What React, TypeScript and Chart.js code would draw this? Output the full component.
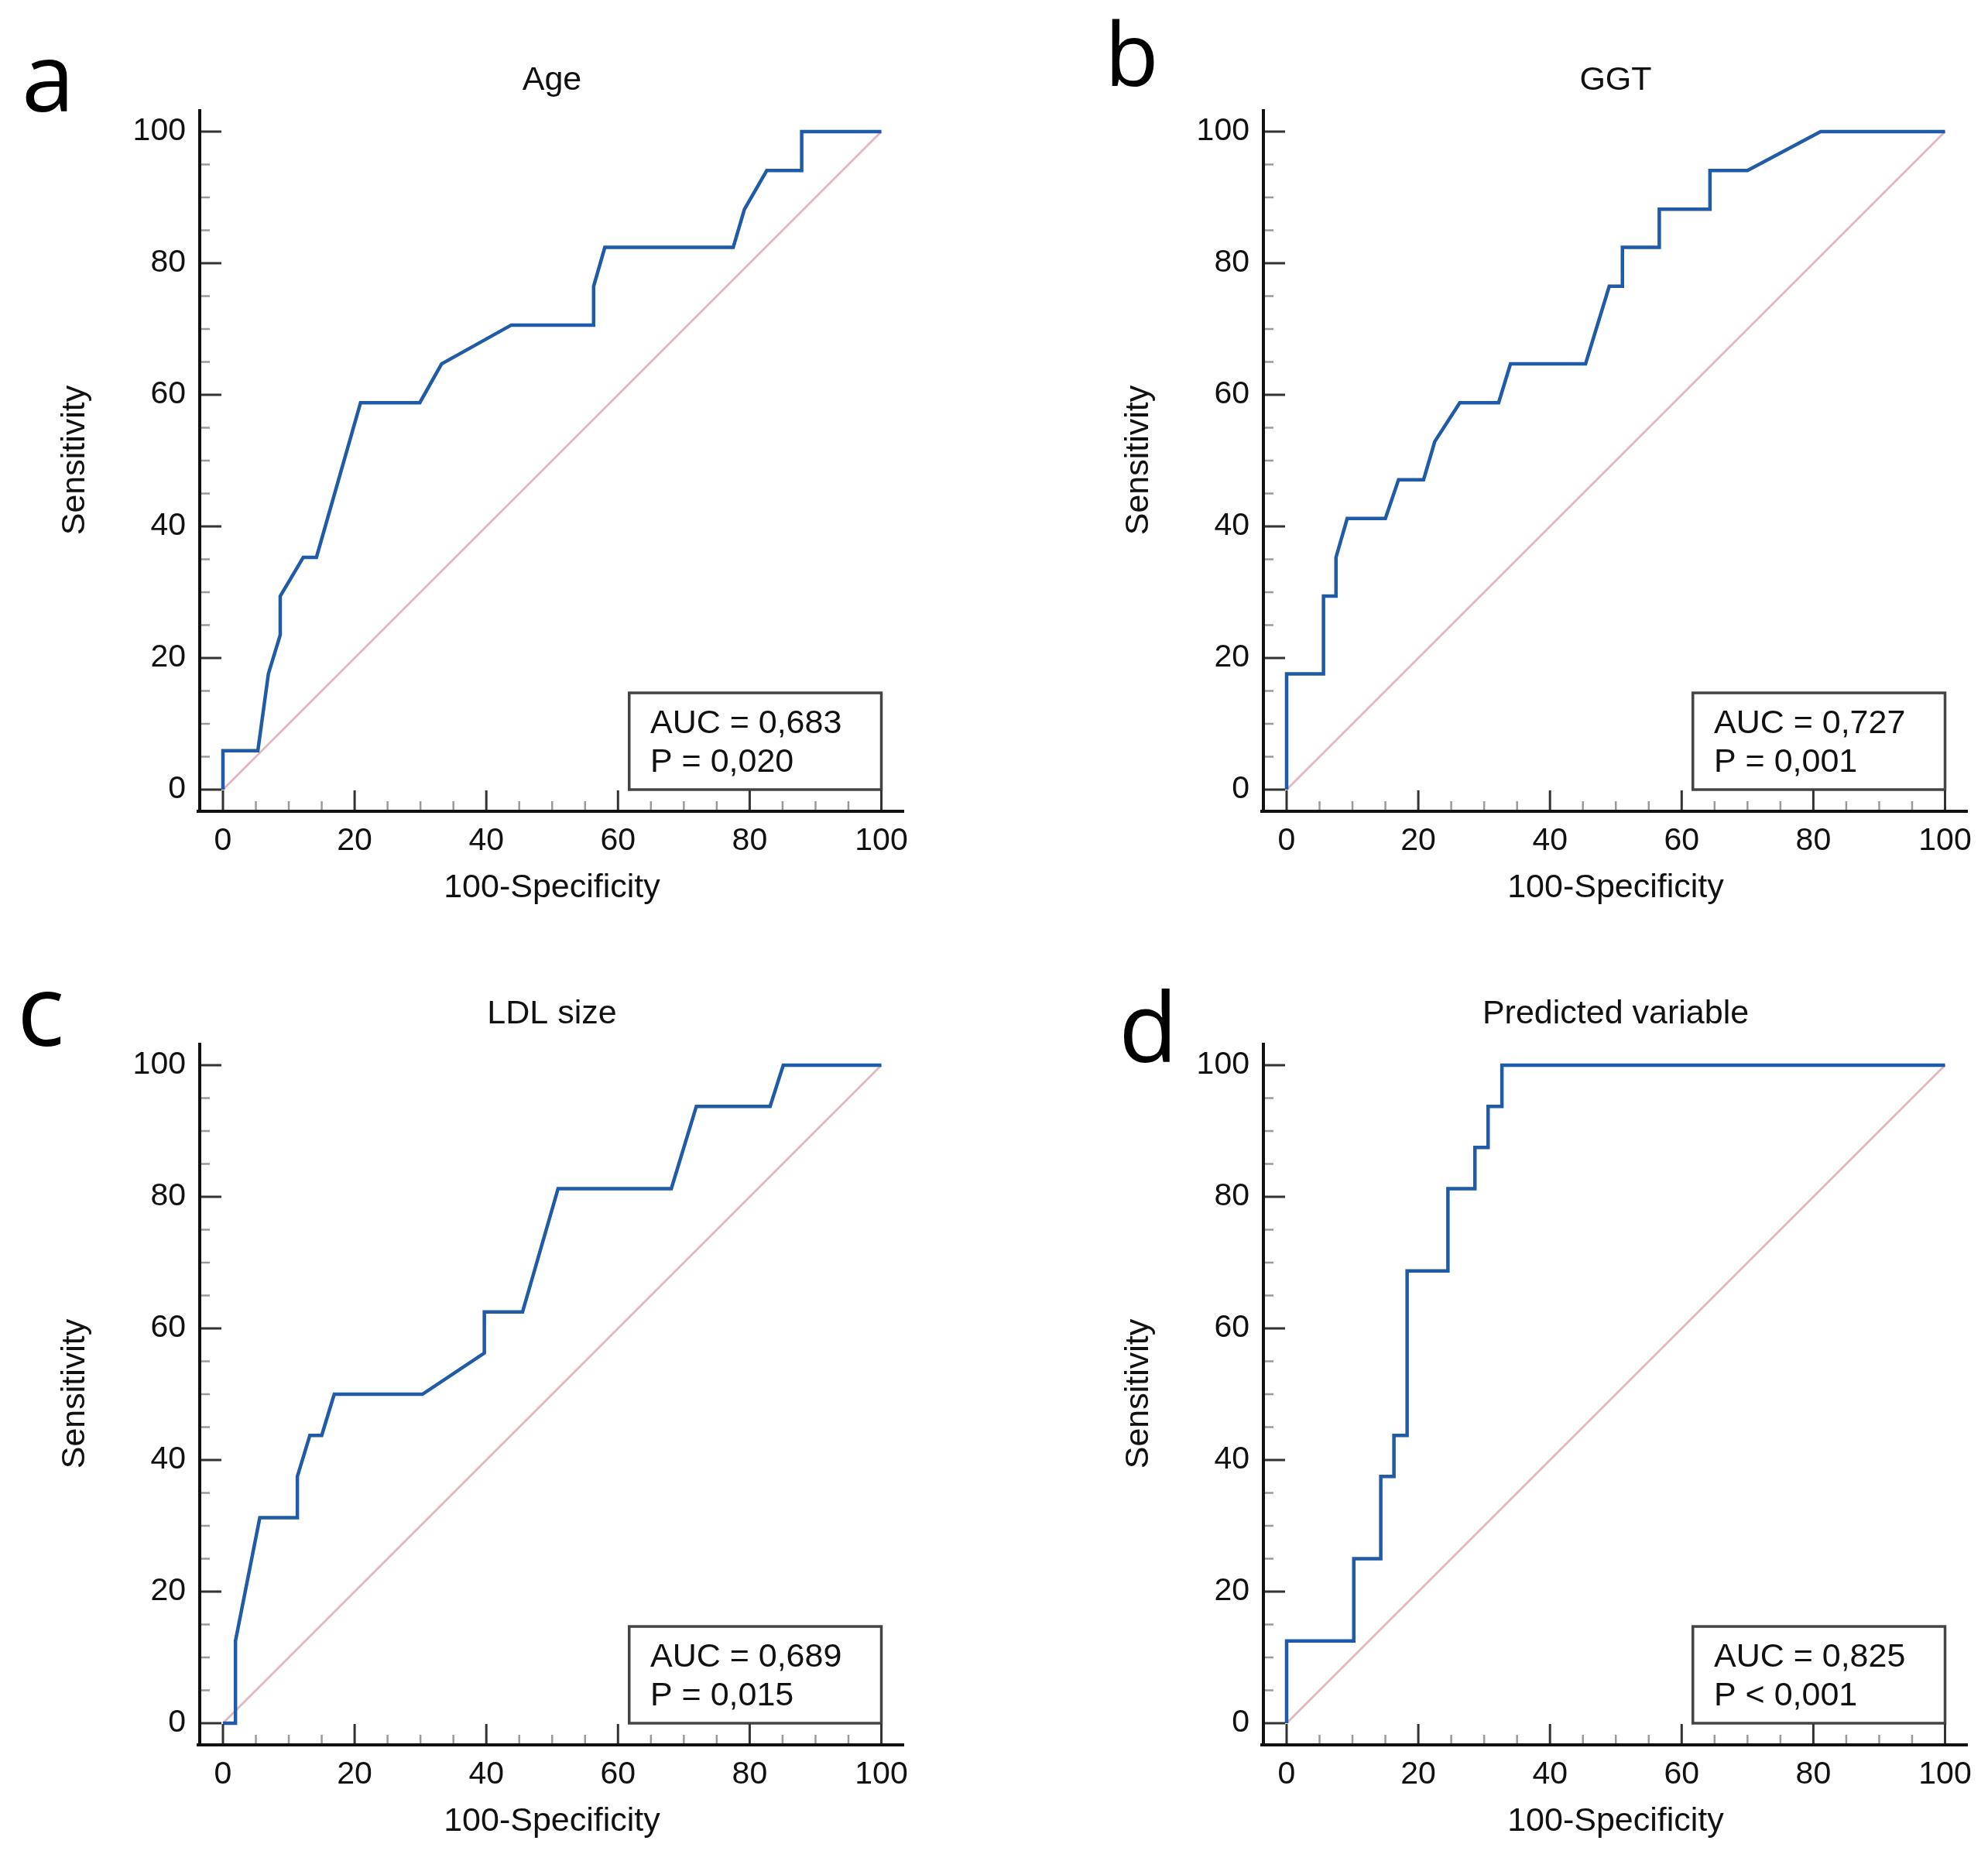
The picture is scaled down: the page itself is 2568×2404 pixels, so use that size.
import { useEffect, useRef } from "react";
import { Chart, registerables } from "chart.js";

Chart.register(...registerables);

// ---------------- data ----------------
const AGE_FPR = [0, 0, 5.3, 6.9, 8.7, 8.7, 12.2, 14.2, 20.9, 29.9, 33.2, 43.8, 56.3, 56.3, 58, 77.5, 79.2, 82.6, 87.9, 87.9, 100];
const AGE_TPR = [0, 5.9, 5.9, 17.6, 23.5, 29.4, 35.3, 35.3, 58.8, 58.8, 64.7, 70.6, 70.6, 76.5, 82.4, 82.4, 88.2, 94.1, 94.1, 100, 100];

const GGT_FPR = [0, 0, 5.6, 5.6, 7.5, 7.5, 9.2, 15.0, 17.0, 20.8, 22.5, 26.3, 32.2, 34.0, 45.4, 49.0, 51.0, 51.0, 56.6, 56.6, 64.3, 64.3, 70.0, 81.1, 100];
const GGT_TPR = [0, 17.6, 17.6, 29.4, 29.4, 35.3, 41.2, 41.2, 47.1, 47.1, 52.9, 58.8, 58.8, 64.7, 64.7, 76.5, 76.5, 82.4, 82.4, 88.2, 88.2, 94.1, 94.1, 100, 100];

const LDL_FPR = [0, 1.9, 1.9, 5.6, 11.3, 11.3, 13.2, 15.0, 16.9, 30.3, 39.7, 39.7, 45.5, 50.9, 68.1, 71.9, 83.1, 85.1, 100];
const LDL_TPR = [0, 0, 12.5, 31.25, 31.25, 37.5, 43.75, 43.75, 50, 50, 56.25, 62.5, 62.5, 81.25, 81.25, 93.75, 93.75, 100, 100];

const PRED_FPR = [0, 0, 10.2, 10.2, 14.3, 14.3, 16.3, 16.3, 18.3, 18.3, 24.5, 24.5, 28.6, 28.6, 30.6, 30.6, 32.7, 32.7, 100];
const PRED_TPR = [0, 12.5, 12.5, 25, 25, 37.5, 37.5, 43.75, 43.75, 68.75, 68.75, 81.25, 81.25, 87.5, 87.5, 93.75, 93.75, 100, 100];

const DIAG_X = [0, 100];
const DIAG_Y = [0, 100];

const MAJOR_TICKS = [0, 20, 40, 60, 80, 100];
const MINOR_TICKS = [5, 10, 15, 25, 30, 35, 45, 50, 55, 65, 70, 75, 85, 90, 95];

const PANEL_TITLES = ["Age", "GGT", "LDL size", "Predicted variable"];
const PANEL_LETTERS = ["a", "b", "c", "d"];
const AUC_LABELS = ["AUC = 0,683", "AUC = 0,727", "AUC = 0,689", "AUC = 0,825"];
const P_LABELS = ["P = 0,020", "P = 0,001", "P = 0,015", "P < 0,001"];
const X_TITLE = "100-Specificity";
const Y_TITLE = "Sensitivity";

// ---------------- layout / style ----------------
const CANVAS_W = 1194;
const CANVAS_H = 1198;
const AREA_LEFT = 258;
const AREA_TOP = 141;
const AREA_RIGHT = 1168;
const AREA_BOTTOM = 1048;
const X_MIN = -3.527;
const X_MAX = 103.469;
const Y_MIN = -3.294;
const Y_MAX = 103.412;
const FONT = '"Liberation Sans", Arial, sans-serif';
const TEXT_COLOR = "#111111";
const ROC_COLOR = "#1f5ba6";
const DIAG_COLOR = "#e4b6bd";
const TITLE_SIZE = 43;
const TITLE_LH = TITLE_SIZE * 1.2;

const PANEL_POS = [
  { left: 0, top: 0 },
  { left: 1374, top: 0 },
  { left: 0, top: 1206 },
  { left: 1374, top: 1206 },
];
const LETTER_STYLE = [
  { x: 28, y: 144, size: 123 },
  { x: 53, y: 111, size: 114 },
  { x: 22, y: 145, size: 128 },
  { x: 71, y: 166, size: 125 },
];

const SERIES = [
  [AGE_FPR, AGE_TPR],
  [GGT_FPR, GGT_TPR],
  [LDL_FPR, LDL_TPR],
  [PRED_FPR, PRED_TPR],
];

function Panel({ idx }: { idx: number }) {
  const ref = useRef<HTMLCanvasElement | null>(null);

  useEffect(() => {
    if (!ref.current) return;
    const [fpr, tpr] = SERIES[idx];
    const letter = LETTER_STYLE[idx];

    const decor = {
      id: "rocDecor" + idx,
      afterDatasetsDraw(chart: any) {
        const ctx = chart.ctx;
        const xs = chart.scales.x;
        const ys = chart.scales.y;
        const { left, right, top, bottom } = chart.chartArea;
        ctx.save();

        // AUC box
        const bx1 = xs.getPixelForValue(61.7);
        const bx2 = xs.getPixelForValue(100);
        const by1 = ys.getPixelForValue(14.7);
        const by2 = ys.getPixelForValue(0);
        ctx.fillStyle = "#ffffff";
        ctx.fillRect(bx1, by1, bx2 - bx1, by2 - by1);
        ctx.strokeStyle = "#444444";
        ctx.lineWidth = 3.5;
        ctx.strokeRect(bx1, by1, bx2 - bx1, by2 - by1);
        ctx.fillStyle = TEXT_COLOR;
        ctx.font = `43px ${FONT}`;
        ctx.textAlign = "left";
        ctx.textBaseline = "alphabetic";
        const tx = xs.getPixelForValue(64.9);
        ctx.fillText(AUC_LABELS[idx], tx, ys.getPixelForValue(8.6));
        ctx.fillText(P_LABELS[idx], tx, ys.getPixelForValue(2.7));

        // minor ticks
        ctx.strokeStyle = "#9a9a9a";
        ctx.lineWidth = 2.5;
        ctx.beginPath();
        MINOR_TICKS.forEach((v) => {
          const px = xs.getPixelForValue(v);
          ctx.moveTo(px, bottom);
          ctx.lineTo(px, bottom - 13);
          const py = ys.getPixelForValue(v);
          ctx.moveTo(left, py);
          ctx.lineTo(left + 13, py);
        });
        ctx.stroke();

        // major ticks
        ctx.strokeStyle = "#333333";
        ctx.lineWidth = 3;
        ctx.beginPath();
        MAJOR_TICKS.forEach((v) => {
          const px = xs.getPixelForValue(v);
          ctx.moveTo(px, bottom);
          ctx.lineTo(px, bottom - 27);
          const py = ys.getPixelForValue(v);
          ctx.moveTo(left, py);
          ctx.lineTo(left + 28, py);
        });
        ctx.stroke();

        // axis lines
        ctx.strokeStyle = "#111111";
        ctx.lineWidth = 4;
        ctx.beginPath();
        ctx.moveTo(left, top);
        ctx.lineTo(left, bottom);
        ctx.moveTo(left - 4, bottom);
        ctx.lineTo(right, bottom);
        ctx.stroke();
        ctx.restore();
      },
      afterDraw(chart: any) {
        const ctx = chart.ctx;
        ctx.save();
        ctx.fillStyle = "#000000";
        ctx.font = `${letter.size}px "Open Sans", sans-serif`;
        ctx.textAlign = "left";
        ctx.textBaseline = "alphabetic";
        ctx.fillText(PANEL_LETTERS[idx], letter.x, letter.y);
        ctx.restore();
      },
    };

    const chart = new Chart(ref.current, {
      type: "scatter",
      data: {
        datasets: [
          {
            data: fpr.map((x, i) => ({ x, y: tpr[i] })),
            showLine: true,
            borderColor: ROC_COLOR,
            borderWidth: 4.5,
            pointRadius: 0,
            tension: 0,
            fill: false,
          },
          {
            data: DIAG_X.map((x, i) => ({ x, y: DIAG_Y[i] })),
            showLine: true,
            borderColor: DIAG_COLOR,
            borderWidth: 2.8,
            pointRadius: 0,
            tension: 0,
            fill: false,
          },
        ],
      },
      options: {
        responsive: false,
        animation: false,
        devicePixelRatio: 1,
        events: [],
        layout: { padding: { left: 0, top: 0, right: CANVAS_W - AREA_RIGHT, bottom: 0 } },
        plugins: {
          legend: { display: false },
          tooltip: { enabled: false },
          title: {
            display: true,
            fullSize: false,
            text: PANEL_TITLES[idx],
            color: TEXT_COLOR,
            font: { family: FONT, size: TITLE_SIZE, weight: "normal" },
            padding: { top: 104 - TITLE_LH / 2, bottom: AREA_TOP - TITLE_LH - (104 - TITLE_LH / 2) },
          },
        },
        scales: {
          x: {
            type: "linear",
            min: X_MIN,
            max: X_MAX,
            grid: { display: false, drawTicks: false },
            border: { display: false },
            afterBuildTicks: (s: any) => {
              s.ticks = MAJOR_TICKS.map((v) => ({ value: v }));
            },
            afterFit: (s: any) => {
              s.height = CANVAS_H - AREA_BOTTOM;
            },
            ticks: {
              autoSkip: false,
              maxRotation: 0,
              padding: 14,
              color: TEXT_COLOR,
              font: { family: FONT, size: 41 },
            },
            title: {
              display: true,
              text: X_TITLE,
              color: TEXT_COLOR,
              font: { family: FONT, size: TITLE_SIZE },
              padding: { top: 0, bottom: CANVAS_H - 1147 - TITLE_LH / 2 },
            },
          },
          y: {
            type: "linear",
            min: Y_MIN,
            max: Y_MAX,
            grid: { display: false, drawTicks: false },
            border: { display: false },
            afterBuildTicks: (s: any) => {
              s.ticks = MAJOR_TICKS.map((v) => ({ value: v }));
            },
            afterFit: (s: any) => {
              s.width = AREA_LEFT;
            },
            ticks: {
              autoSkip: false,
              padding: 18,
              color: TEXT_COLOR,
              font: { family: FONT, size: 41 },
            },
            title: {
              display: true,
              text: Y_TITLE,
              color: TEXT_COLOR,
              font: { family: FONT, size: TITLE_SIZE },
              padding: { top: 97 - TITLE_LH / 2, bottom: 0 },
            },
          },
        },
      },
      plugins: [decor],
    } as any);

    return () => chart.destroy();
  }, [idx]);

  const pos = PANEL_POS[idx];
  return (
    <canvas
      ref={ref}
      width={CANVAS_W}
      height={CANVAS_H}
      style={{
        position: "absolute",
        left: pos.left,
        top: pos.top,
        width: CANVAS_W,
        height: CANVAS_H,
      }}
    />
  );
}

export default function App() {
  return (
    <div
      style={{
        position: "absolute",
        left: 0,
        top: 0,
        width: 2568,
        height: 2404,
        background: "#ffffff",
        overflow: "hidden",
      }}
    >
      {[0, 1, 2, 3].map((i) => (
        <Panel key={i} idx={i} />
      ))}
    </div>
  );
}
